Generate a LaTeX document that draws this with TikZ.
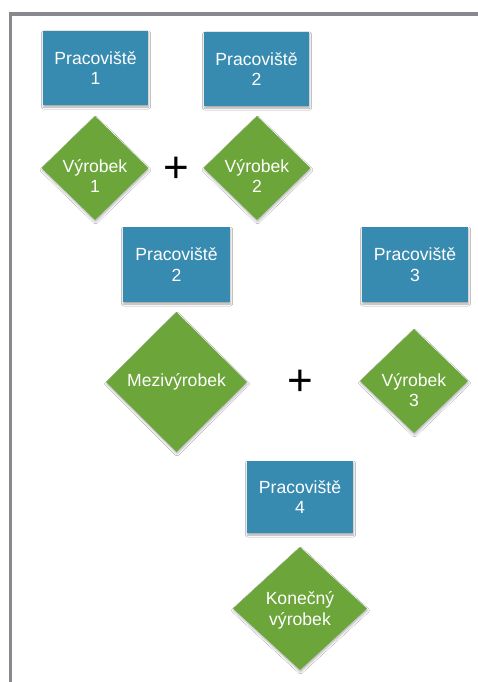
\documentclass[tikz,border=0pt]{standalone}
\usepackage{fontspec}
\setmainfont{Liberation Sans}
\usetikzlibrary{shapes.geometric,shadows.blur}
\definecolor{stationblue}{RGB}{56,139,176}
\definecolor{productgreen}{RGB}{108,165,58}
\definecolor{framegray}{RGB}{135,137,142}
\begin{document}
\begin{tikzpicture}[x=1pt,y=-1pt,
  txt/.style={font=\fontsize{17.6}{20.5}\selectfont},
  station/.style={rectangle, fill=stationblue, text=white, align=center, txt,
    inner sep=0pt,
    blur shadow={shadow xshift=0.5pt, shadow yshift=-2pt, shadow blur radius=2pt, shadow opacity=35}},
  product/.style={diamond, fill=productgreen, inner sep=0pt, aspect=1,
    blur shadow={shadow xshift=0.5pt, shadow yshift=-2pt, shadow blur radius=2pt, shadow opacity=30}},
  caption/.style={text=white, align=center, txt},
  plussign/.style={font=\fontsize{44}{44}\selectfont, inner sep=0pt}
]
\useasboundingbox (0,0) rectangle (478,682);
\fill[white] (0,0) rectangle (478,682);

% frame along the top and left edges
\draw[framegray, line width=3.2pt] (478,14) -- (10.5,14) -- (10.5,682);

% first stage
\node[station, minimum width=105pt, minimum height=74pt] (p1) at (95.5,68) {Pracoviště\\1};
\node[station, minimum width=105pt, minimum height=74pt] (p2a) at (256.5,69) {Pracoviště\\2};
\node[product, minimum width=107pt, minimum height=104pt] (v1) at (95,168) {};
\node[caption] (v1t) at ([yshift=-8pt]v1.center) {Výrobek\\1};
\node[product, minimum width=107pt, minimum height=104pt] (v2) at (257,168) {};
\node[caption] (v2t) at ([yshift=-8pt]v2.center) {Výrobek\\2};
\node[plussign] (plus1) at (176.5,169.5) {+};

% second stage
\node[station, minimum width=107pt, minimum height=75pt] (p2b) at (176.5,264.5) {Pracoviště\\2};
\node[station, minimum width=106pt, minimum height=75pt] (p3) at (415,264.5) {Pracoviště\\3};
\node[product, minimum width=141pt, minimum height=140pt] (m) at (176.5,382) {};
\node[caption] (mt) at (m.center) {Mezivýrobek};
\node[plussign] (plus2) at (300,382.5) {+};
\node[product, minimum width=108pt, minimum height=104pt] (v3) at (414,381) {};
\node[caption] (v3t) at ([yshift=-9pt]v3.center) {Výrobek\\3};

% final stage
\node[station, minimum width=106pt, minimum height=72pt] (p4) at (300,497) {Pracoviště\\4};
\node[product, minimum width=134pt, minimum height=123pt] (k) at (300,608.5) {};
\node[caption] (kt) at ([yshift=-2pt]k.center) {Konečný\\výrobek};
\end{tikzpicture}
\end{document}
